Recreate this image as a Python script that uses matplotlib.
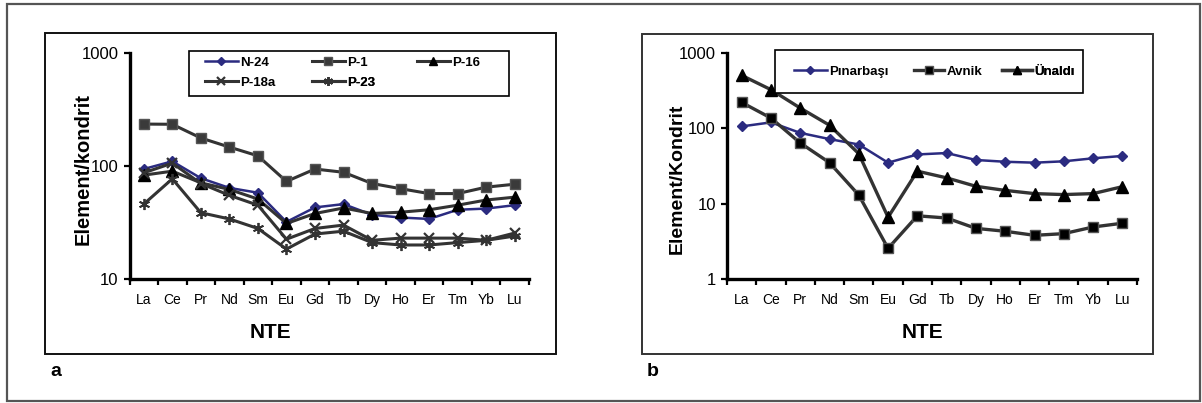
import matplotlib.pyplot as plt
from matplotlib.patches import Rectangle

plt.rcParams['font.family'] = ['Liberation Sans', 'DejaVu Sans']

# rare earth elements (chondrite normalised)
ree = ['La', 'Ce', 'Pr', 'Nd', 'Sm', 'Eu', 'Gd', 'Tb', 'Dy', 'Ho', 'Er', 'Tm', 'Yb', 'Lu']

# panel a samples
n24 = [94, 110, 78, 64, 58, 32, 43, 46, 37, 35, 34, 41, 42, 45]
p1 = [235, 234, 177, 147, 123, 73, 94, 88, 70, 63, 57, 57, 65, 69]
p16 = [83, 90, 71, 62, 51, 31, 38, 42.5, 38, 39, 41, 45, 50, 53]
p18a = [87, 106, 70, 55, 45, 22.5, 28, 30, 22, 23, 23, 23, 22, 25.5]
p23 = [46, 77, 38.6, 34, 28, 18.4, 25, 26.5, 21, 20, 20, 21, 22, 24]

# panel b localities
pinarbasi = [106, 120, 87, 72, 61, 35, 45, 47, 38, 36, 35, 36.5, 40, 43]
avnik = [221, 137, 64, 35, 13, 2.55, 6.9, 6.45, 4.7, 4.3, 3.8, 4.0, 4.9, 5.5]
unaldi = [505, 326, 186, 110, 46, 6.6, 27, 22, 17, 15, 13.6, 13.2, 13.6, 16.8]

W, H = 1202, 403
fig = plt.figure(figsize=(W / 100, H / 100), dpi=100)

blue = '#2b2b80'
grey = '#333333'


def fx(px):
    return px / W


def fy(py):
    return 1 - py / H


# outer frame and panel frames
fig.patches.append(Rectangle((fx(7), fy(401)), fx(1193), 397 / H, transform=fig.transFigure,
                             fill=False, ec='#555555', lw=1.6))
fig.patches.append(Rectangle((fx(45), fy(354)), fx(511), 321 / H, transform=fig.transFigure,
                             fill=False, ec='#111111', lw=1.4))
fig.patches.append(Rectangle((fx(642), fy(354)), fx(511), 320 / H, transform=fig.transFigure,
                             fill=False, ec='#333333', lw=1.4))


def setup(ax, ylim):
    ax.set_yscale('log')
    ax.set_ylim(*ylim)
    ax.set_xlim(-0.5, len(ree) - 0.5)
    for s in ['top', 'right']:
        ax.spines[s].set_visible(False)
    for s in ['left', 'bottom']:
        ax.spines[s].set_linewidth(2.4)
    ax.set_xticks(range(len(ree)))
    ax.set_xticklabels(ree, fontsize=10)
    ax.tick_params(axis='x', length=0, pad=10)
    ax.set_xticks([i - 0.5 for i in range(len(ree) + 1)], minor=True)
    ax.tick_params(axis='x', which='minor', length=4, width=1.6, direction='out')
    ax.tick_params(axis='y', which='major', length=4, width=1.6, labelsize=12, pad=4)
    ax.tick_params(axis='y', which='minor', length=0)
    ax.yaxis.set_major_formatter(plt.FuncFormatter(lambda v, p: '%g' % v))


def legend_box(ax, x0, y0, x1, y1):
    ax.add_patch(Rectangle((fx(x0), fy(y1)), fx(x1 - x0), (y1 - y0) / H,
                           transform=fig.transFigure, clip_on=False, fc='white',
                           ec='black', lw=1.2, zorder=4.5))


def entry(ax, h, label, px, py, size=9.5, hl=2.5):
    lg = ax.legend([h], [label], loc='center left', bbox_to_anchor=(fx(px), fy(py)),
                   bbox_transform=fig.transFigure, borderaxespad=0, borderpad=0,
                   frameon=False, handlelength=hl, handletextpad=0.15, markerscale=0.8,
                   prop={'weight': 'bold', 'size': size})
    lg.set_zorder(6)
    ax.add_artist(lg)


x = range(len(ree))

# panel a
ax1 = fig.add_axes([fx(129.5), fy(279), fx(399.5), 226 / H])
setup(ax1, (10, 1000))
l1, = ax1.plot(x, n24, color=blue, lw=1.8, marker='D', ms=5, mfc=blue, mec=blue)
l2, = ax1.plot(x, p1, color=grey, lw=2.2, marker='s', ms=7, mfc='#3a3a3a', mec='#555555')
l3, = ax1.plot(x, p16, color=grey, lw=2.2, marker='^', ms=8, mfc='black', mec='black')
l4, = ax1.plot(x, p18a, color=grey, lw=2.2, marker='x', ms=7, mew=1.6, mec=grey)
l5, = ax1.plot(x, p23, color=grey, lw=2.2, marker=(6, 2, 0), ms=8, mec=grey, mew=1.3)
legend_box(ax1, 189, 51, 509, 96)
entry(ax1, l1, 'N-24', 205, 63)
entry(ax1, l2, 'P-1', 312, 63)
entry(ax1, l3, 'P-16', 417, 63)
entry(ax1, l4, 'P-18a', 205, 83)
entry(ax1, l5, 'P-23', 312, 83)

# panel b
ax2 = fig.add_axes([fx(727), fy(279), fx(410), 226 / H])
setup(ax2, (1, 1000))
m1, = ax2.plot(x, pinarbasi, color=blue, lw=1.8, marker='D', ms=5, mfc=blue, mec=blue)
m2, = ax2.plot(x, avnik, color=grey, lw=2.4, marker='s', ms=7.5, mfc='black', mec='#555555')
m3, = ax2.plot(x, unaldi, color=grey, lw=2.4, marker='^', ms=8, mfc='black', mec='black')
legend_box(ax2, 775, 50, 1083, 93)
entry(ax2, m1, 'Pınarbaşı', 794, 72, size=9.5, hl=2.5)
entry(ax2, m2, 'Avnik', 914, 72, size=9.5, hl=2.3)
entry(ax2, m3, 'Ünaldı', 1002, 72, size=9.5, hl=2.3)

# axis titles and panel letters
fig.text(fx(83), fy(169), 'Element/kondrit', rotation=90, ha='center', va='center',
         fontsize=14.5, fontweight='bold')
fig.text(fx(677), fy(179), 'Element/Kondrit', rotation=90, ha='center', va='center',
         fontsize=14, fontweight='bold')
fig.text(fx(270), fy(333), 'NTE', ha='center', va='center', fontsize=15, fontweight='bold')
fig.text(fx(922), fy(333), 'NTE', ha='center', va='center', fontsize=15, fontweight='bold')
fig.text(fx(56), fy(371), 'a', ha='center', va='center', fontsize=14, fontweight='bold')
fig.text(fx(653), fy(371), 'b', ha='center', va='center', fontsize=14, fontweight='bold')

fig.savefig('out.png', dpi=100)
